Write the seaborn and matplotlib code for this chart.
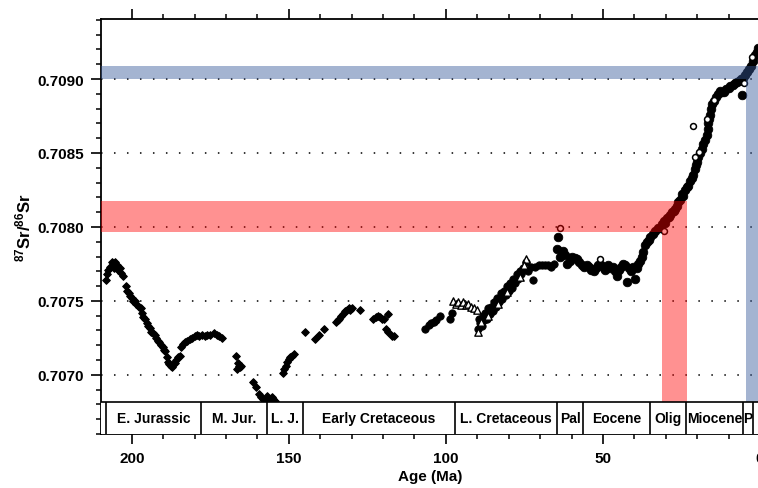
import matplotlib
matplotlib.use('Agg')
import matplotlib.pyplot as plt
import seaborn as sns
from matplotlib.ticker import MultipleLocator, FormatStrFormatter

# ---------------- data (age in Ma, 87Sr/86Sr) ----------------
jur_age = [208.3, 208.0, 207.5, 206.8, 206.2, 205.7, 205.2, 204.8, 204.3, 203.8, 203.3, 202.8,
           202.0, 201.5, 201.0, 200.5, 200.0, 199.5, 199.0, 198.5, 197.8, 197.2, 196.8, 196.3,
           195.8, 195.3, 194.8, 194.2, 193.8, 193.2, 192.7, 192.2, 191.7, 191.2, 190.6, 190.2,
           189.7, 189.3, 188.8, 188.5, 188.1, 187.6, 187.2, 186.8, 186.3, 185.8, 185.2, 184.8,
           184.3, 183.7, 183.0, 182.3, 181.5, 180.8, 180.0, 179.3, 178.5, 177.6, 176.8, 176.0,
           175.0, 173.8, 173.0, 172.2, 171.3,
           166.7, 166.3, 166.0, 165.6, 165.2, 166.4,
           161.5, 160.5, 159.5, 158.8, 158.2, 157.5, 157.0, 156.5, 156.0, 155.5, 155.0, 154.5,
           152.0, 151.5, 151.0, 150.5, 150.0, 149.5, 149.0, 148.5,
           145.0, 141.7, 140.5, 138.8,
           134.9, 134.4, 133.9, 133.3, 132.7, 132.2, 131.5, 131.0, 130.4, 129.8, 127.5,
           123.2, 122.4, 121.6, 120.9, 120.2, 119.6, 118.5, 119.0, 118.3, 117.2, 116.6]
jur_sr = [0.70764, 0.70768, 0.70771, 0.70773, 0.70776, 0.70772, 0.70776, 0.70774, 0.70771, 0.70772, 0.70769, 0.70767,
          0.70760, 0.70757, 0.70755, 0.70753, 0.70752, 0.70750, 0.70750, 0.70748, 0.70746, 0.70745, 0.70742, 0.70739,
          0.70738, 0.70735, 0.70733, 0.70732, 0.70729, 0.70728, 0.70727, 0.70725, 0.70723, 0.70722, 0.70720, 0.70719,
          0.70717, 0.70716, 0.70712, 0.70709, 0.70707, 0.70706, 0.70705, 0.70707, 0.70708, 0.70710, 0.70712, 0.70713,
          0.70719, 0.70721, 0.70722, 0.70723, 0.70724, 0.70725, 0.70726, 0.70727, 0.70726, 0.70727, 0.70726, 0.70727,
          0.70727, 0.70728, 0.70727, 0.70726, 0.70725,
          0.70713, 0.70708, 0.70706, 0.70705, 0.70706, 0.70704,
          0.70695, 0.70692, 0.70687, 0.70685, 0.70684, 0.70683, 0.70686, 0.70684, 0.70683, 0.70685, 0.70684, 0.70682,
          0.70701, 0.70704, 0.70706, 0.70709, 0.70711, 0.70712, 0.70713, 0.70714,
          0.70729, 0.70724, 0.70727, 0.70731,
          0.70736, 0.70737, 0.70738, 0.70740, 0.70741, 0.70743, 0.70744, 0.70745, 0.70744, 0.70745, 0.70744,
          0.70738, 0.70739, 0.70740, 0.70739, 0.70738, 0.70738, 0.70741, 0.70731, 0.70729, 0.70726, 0.70726]

kret_age = [106.7, 105.5, 104.6, 103.8, 103.2, 101.9, 98.7, 98.2,
            89.8, 89.5, 89.0, 88.6, 88.2, 87.8, 87.5, 87.0, 86.6, 86.0, 85.6, 85.0, 84.6, 84.0,
            83.6, 83.0, 82.5, 82.0, 81.5, 81.0, 80.5, 80.0, 79.5, 79.0, 78.5, 78.0, 77.5, 77.0,
            76.5, 76.0, 75.5, 75.0, 74.5, 74.0, 73.0, 72.3, 71.5, 70.5, 69.5, 68.5, 67.5, 66.5, 65.5]
kret_sr = [0.70731, 0.70734, 0.70735, 0.70736, 0.70737, 0.70740, 0.70738, 0.70742,
           0.70731, 0.70738, 0.70735, 0.70733, 0.70740, 0.70737, 0.70742, 0.70738, 0.70745, 0.70741, 0.70746, 0.70743, 0.70749, 0.70746,
           0.70752, 0.70749, 0.70755, 0.70751, 0.70757, 0.70754, 0.70760, 0.70757, 0.70762, 0.70759, 0.70765, 0.70762, 0.70768, 0.70765,
           0.70770, 0.70768, 0.70772, 0.70771, 0.70776, 0.70770, 0.70773, 0.70764, 0.70773, 0.70774, 0.70774, 0.70774, 0.70774, 0.70773, 0.70775]

tri_age = [97.6, 96.8, 96.0, 95.2, 94.5, 93.7, 92.9, 92.0, 91.2, 90.2, 89.7, 88.8, 86.5, 83.5, 80.5, 76.5, 74.6, 75.2]
tri_sr = [0.70750, 0.70748, 0.70749, 0.70747, 0.70749, 0.70747, 0.70748, 0.70746, 0.70745, 0.70744,
          0.70729, 0.70736, 0.70740, 0.70748, 0.70756, 0.70766, 0.70778, 0.70774]

ceno_age = [64.7, 64.2, 63.6, 62.8, 62.0, 61.4, 60.5, 59.9, 59.0, 58.2, 57.5, 56.7, 56.0, 55.2, 54.5, 53.8,
            53.0, 52.3, 51.5, 50.5, 49.8, 49.2, 48.4, 47.6, 46.9, 46.2, 45.6, 45.0, 44.2, 43.5, 43.0, 42.4,
            41.8, 41.0, 40.3, 39.8, 39.2, 38.7, 38.2, 37.6, 37.1, 36.6, 36.0, 35.4, 35.0, 34.2, 33.4, 32.6,
            31.8, 31.2, 30.6, 30.2, 29.6, 29.0, 28.6, 28.0, 27.5, 27.0, 26.5, 26.0, 25.5, 24.9, 24.4, 23.8,
            23.3, 22.8, 22.2, 21.7, 21.2, 20.8, 20.4, 20.0, 19.6, 19.1, 18.6, 18.0, 17.5, 17.0, 16.6, 16.4,
            16.2, 16.0, 15.6, 15.2, 14.6, 14.0, 13.4, 12.8, 12.2, 11.5, 10.8, 10.0, 9.4, 8.7, 8.0, 7.3,
            6.6, 6.0, 5.8, 5.3, 4.7, 4.0, 3.4, 2.8, 2.2, 1.6, 1.0, 0.5]
ceno_sr = [0.70785, 0.70793, 0.70780, 0.70784, 0.70781, 0.70775, 0.70777, 0.70780, 0.70779, 0.70778, 0.70776, 0.70774, 0.70773, 0.70774, 0.70773, 0.70771,
           0.70770, 0.70772, 0.70774, 0.70774, 0.70772, 0.70771, 0.70774, 0.70772, 0.70773, 0.70770, 0.70767, 0.70771, 0.70773, 0.70775, 0.70774, 0.70763,
           0.70772, 0.70770, 0.70773, 0.70765, 0.70772, 0.70775, 0.70777, 0.70780, 0.70783, 0.70788, 0.70790, 0.70791, 0.70793, 0.70795, 0.70797, 0.70799,
           0.70799, 0.70802, 0.70804, 0.70803, 0.70806, 0.70807, 0.70808, 0.70810, 0.70811, 0.70812, 0.70814, 0.70817, 0.70818, 0.70822, 0.70821, 0.70825,
           0.70827, 0.70828, 0.70831, 0.70833, 0.70835, 0.70839, 0.70842, 0.70844, 0.70847, 0.70850, 0.70853, 0.70856, 0.70859, 0.70862, 0.70866, 0.70870,
           0.70873, 0.70876, 0.70880, 0.70883, 0.70885, 0.70888, 0.70890, 0.70892, 0.70891, 0.70891, 0.70893, 0.70894, 0.70895, 0.70896, 0.70897, 0.70898,
           0.70899, 0.70900, 0.70889, 0.70901, 0.70903, 0.70905, 0.70907, 0.70909, 0.70912, 0.70916, 0.70918, 0.70921]

open_age = [63.7, 50.9, 21.2, 16.9, 19.4, 20.8, 2.5, 5.0, 14.8, 30.5]
open_sr = [0.70799, 0.70778, 0.70868, 0.70873, 0.70851, 0.70847, 0.70915, 0.70897, 0.70886, 0.70797]

# period boxes
period_edges = [208.2, 178.0, 157.0, 145.5, 97.0, 64.7, 56.2, 35.0, 23.5, 5.3, 2.3]
period_names = ['E. Jurassic', 'M. Jur.', 'L. J.', 'Early Cretaceous', 'L. Cretaceous',
                'Pal', 'Eocene', 'Olig', 'Miocene', 'P']

# highlighted ranges
red_age = [31.3, 23.3]
red_sr = [0.707964, 0.708178]
blue_age = [4.4, 0.0]
blue_sr = [0.70900, 0.70909]

# ---------------- plotting ----------------
sns.set_theme(style='ticks')
plt.rcParams['font.family'] = ['Liberation Sans', 'DejaVu Sans']
plt.rcParams['mathtext.fontset'] = 'custom'
plt.rcParams['mathtext.rm'] = 'Liberation Sans:bold'
plt.rcParams['mathtext.it'] = 'Liberation Sans:bold'
plt.rcParams['mathtext.bf'] = 'Liberation Sans:bold'
plt.rcParams['mathtext.default'] = 'rm'

fig = plt.figure(figsize=(7.58, 4.89), dpi=100)
ax = fig.add_axes([101 / 758, 54 / 489, 659 / 758, 415 / 489])

XL, XR = 209.8, 0.0
YB, YT = 0.7066, 0.709406
BOX_TOP = 0.706816

# dotted grid lines
for v in [0.7070, 0.7075, 0.7080, 0.7085, 0.7090]:
    ax.axhline(v, color='black', lw=1.1, linestyle=(0, (1, 7.5)), zorder=1)

sns.scatterplot(x=jur_age, y=jur_sr, marker='D', s=15, color='black', edgecolor='black',
                linewidth=0.8, ax=ax, zorder=2)
sns.scatterplot(x=kret_age, y=kret_sr, marker='o', s=28, color='black', edgecolor='black',
                linewidth=0.6, ax=ax, zorder=2)
sns.scatterplot(x=ceno_age, y=ceno_sr, marker='o', s=38, color='black', edgecolor='black',
                linewidth=0.6, ax=ax, zorder=2)
sns.scatterplot(x=tri_age, y=tri_sr, marker='^', s=28, color='white', edgecolor='black',
                linewidth=1.0, ax=ax, zorder=2.5)
sns.scatterplot(x=open_age, y=open_sr, marker='o', s=18, color='white', edgecolor='black',
                linewidth=1.1, ax=ax, zorder=2.5)

# highlight bands (drawn above the data, translucent)
ax.fill_between([XL, red_age[1]], red_sr[0], red_sr[1], color='#ff0000', alpha=0.43,
                lw=0, zorder=3)
ax.fill_between(red_age, BOX_TOP, red_sr[0], color='#ff0000', alpha=0.43, lw=0, zorder=3)
ax.fill_between([XL, blue_age[1]], blue_sr[0], blue_sr[1], color='#37599b', alpha=0.45,
                lw=0, zorder=3)
ax.fill_between(blue_age, BOX_TOP, blue_sr[0], color='#37599b', alpha=0.45, lw=0, zorder=3)

# period boxes
ax.fill_between([XL, XR], YB, BOX_TOP, color='white', lw=0, zorder=3.5)
ax.axhline(BOX_TOP, color='black', lw=1.2, zorder=4)
ax.vlines(period_edges, YB, BOX_TOP, color='black', lw=1.2, zorder=4)
ends = period_edges[1:] + [XR]
for a, b, name in zip(period_edges, ends, period_names):
    ax.text((a + b) / 2, (YB + BOX_TOP) / 2, name, ha='center', va='center',
            fontsize=10, fontweight='bold', color='black', zorder=5)

ax.set_xlim(XL, XR)
ax.set_ylim(YB, YT)

ax.set_xticks([200, 150, 100, 50, 0])
ax.xaxis.set_minor_locator(MultipleLocator(10))
ax.set_yticks([0.7070, 0.7075, 0.7080, 0.7085, 0.7090])
ax.yaxis.set_minor_locator(MultipleLocator(0.0001))
ax.yaxis.set_major_formatter(FormatStrFormatter('%.4f'))

ax.tick_params(axis='both', which='major', direction='out', length=7, width=1.2,
               color='black', labelcolor='black', labelsize=11)
ax.tick_params(axis='both', which='minor', direction='out', length=3.5, width=1.1, color='black')
ax.tick_params(axis='x', which='both', top=True, labeltop=False, bottom=True, pad=5)
ax.tick_params(axis='y', which='both', left=True, right=False, pad=5)
for lab in ax.get_xticklabels() + ax.get_yticklabels():
    lab.set_fontweight('bold')

for side in ['left', 'bottom', 'top', 'right']:
    ax.spines[side].set_color('black')
    ax.spines[side].set_linewidth(1.3)
    ax.spines[side].set_visible(True)

ax.set_xlabel('Age (Ma)', fontsize=11, fontweight='bold', color='black', labelpad=3)
ax.set_ylabel(r'$^{87}$Sr/$^{86}$Sr', fontsize=12, fontweight='bold', color='black', labelpad=3)
ax.set_facecolor('white')
fig.patch.set_facecolor('white')

fig.savefig('out.png', dpi=100)
